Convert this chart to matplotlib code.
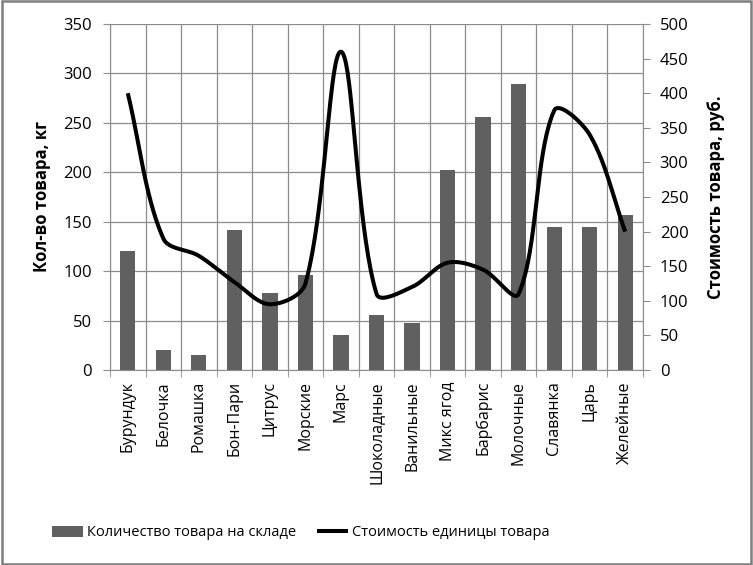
import numpy as np
import matplotlib
matplotlib.use("Agg")
import matplotlib.pyplot as plt
from matplotlib.patches import Rectangle

categories = ["Бурундук", "Белочка", "Ромашка", "Бон-Пари", "Цитрус", "Морские", "Марс",
              "Шоколадные", "Ванильные", "Микс ягод", "Барбарис", "Молочные", "Славянка",
              "Царь", "Желейные"]
quantity = [120, 20, 15, 142, 78, 96, 35, 56, 48, 202, 256, 289, 145, 145, 157]
price = [400, 190, 165, 127, 95, 125, 460, 110, 120, 155, 145, 110, 375, 340, 200]

left_ticks = [0, 50, 100, 150, 200, 250, 300, 350]
right_ticks = [0, 50, 100, 150, 200, 250, 300, 350, 400, 450, 500]

plt.rcParams['font.family'] = ['Open Sans', 'DejaVu Sans']

GRID = "#8c8c8c"
FS = 12

fig = plt.figure(figsize=(7.53, 5.65), dpi=100)
ax = fig.add_axes([110/753, 1-370/565, (643-110)/753, (370-24)/565])
ax2 = ax.twinx()

n = len(categories)
x = np.arange(n)

ax.bar(x, quantity, width=0.43, color="#606060", zorder=3, label="Количество товара на складе")
ax.set_xlim(-0.5, n-0.5)
ax.set_ylim(0, 350)
ax.set_yticks(left_ticks)
ax.set_xticks(np.arange(n+1)-0.5, minor=True)
ax.set_xticks(x)
ax.set_xticklabels(categories, rotation=90, fontsize=11.5)
ax.tick_params(axis='x', which='major', length=0, pad=8)
ax.tick_params(axis='x', which='minor', length=5, color=GRID, direction='out')
ax.tick_params(axis='y', length=5, color=GRID, labelsize=FS, pad=8)
ax.grid(True, which='minor', axis='x', color=GRID, lw=0.9, zorder=0)
ax.grid(True, which='major', axis='y', color=GRID, lw=0.9, zorder=0)
ax.set_axisbelow(True)
for s in ax.spines.values():
    s.set_color(GRID)
ax.spines['top'].set_visible(False)
ax.spines['right'].set_visible(False)

# Excel-like smoothed line, computed in pixel space with chord-length weighting
ax2.set_ylim(0, 500)
def smooth(xs, ys, sx_px, sy_px, steps=40):
    P = np.column_stack([np.asarray(xs, float) * sx_px, np.asarray(ys, float) * sy_px])
    m = len(P)
    T = np.zeros_like(P)
    d = np.linalg.norm(np.diff(P, axis=0), axis=1)
    for i in range(m):
        a = P[max(i-1, 0)]
        b = P[min(i+1, m-1)]
        da = d[i-1] if i > 0 else 0.0
        db = d[i] if i < m-1 else 0.0
        T[i] = (b - a) / (da + db)
    out = []
    for i in range(m-1):
        p1, p2 = P[i], P[i+1]
        c1 = p1 + T[i] * d[i] / 3.0
        c2 = p2 - T[i+1] * d[i] / 3.0
        t = np.linspace(0, 1, steps)[:, None]
        seg = (1-t)**3*p1 + 3*(1-t)**2*t*c1 + 3*(1-t)*t**2*c2 + t**3*p2
        out.append(seg if i == 0 else seg[1:])
    out = np.vstack(out)
    return out[:, 0] / sx_px, out[:, 1] / sy_px

cx, cy = smooth(x, price, 35.5, 346/500)
ax2.plot(cx, cy, color="black", lw=2.9, zorder=4, solid_capstyle='butt',
         label="Стоимость единицы товара")
ax2.set_yticks(right_ticks)
ax2.tick_params(axis='y', length=5, color=GRID, labelsize=FS, pad=7)
for s in ax2.spines.values():
    s.set_visible(False)
ax2.spines['right'].set_visible(True)
ax2.spines['right'].set_color(GRID)

fig.text(42/753, 1-197/565, "Кол-во товара, кг", rotation=90, fontsize=12, fontweight='bold',
         ha='center', va='center')
fig.text(716/753, 1-197/565, "Стоимость товара, руб.", rotation=90, fontsize=12, fontweight='bold',
         ha='center', va='center')

h1, l1 = ax.get_legend_handles_labels()
h2, l2 = ax2.get_legend_handles_labels()
fig.legend(h1 + h2, l1 + l2, loc='center', bbox_to_anchor=(301/753, 1-533/565), ncol=2,
           frameon=False, handlelength=2.1, handleheight=0.85, handletextpad=0.3,
           columnspacing=1.4, prop={'size': 10.5})

fig.patches.append(Rectangle((0.002, 0.002), 0.996, 0.996, transform=fig.transFigure,
                             fill=False, edgecolor="#7f7f7f", lw=1.8))

fig.savefig("out.png", dpi=100)
